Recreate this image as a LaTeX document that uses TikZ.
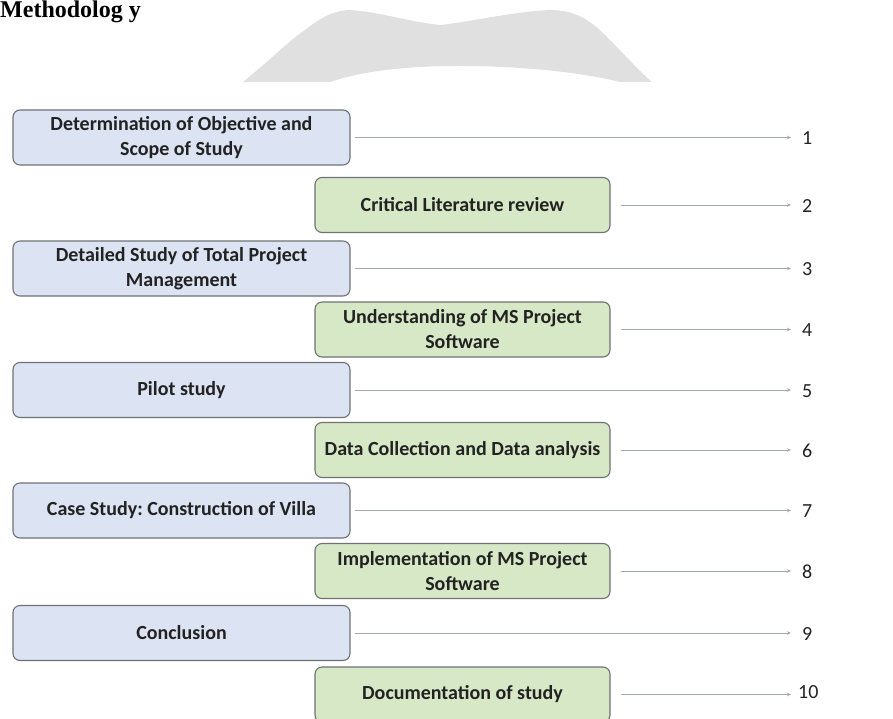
\documentclass[tikz,border=0pt]{standalone}
\usepackage{fontspec}
\setmainfont{Carlito}
\newfontfamily\titlefont{Liberation Serif}
\usetikzlibrary{arrows.meta}
\frenchspacing
\definecolor{bluefill}{HTML}{DCE3F2}
\definecolor{greenfill}{HTML}{D7E8C6}
\definecolor{boxline}{HTML}{6E7275}
\definecolor{conn}{HTML}{A3A9AF}
\definecolor{txt}{HTML}{222222}
\definecolor{wmark}{HTML}{E0E0E0}
\tikzset{
  stepbox/.style={draw=boxline, line width=1.1pt, rounded corners=7pt, minimum height=55pt,
    align=center, font=\bfseries\fontsize{20}{25}\selectfont, text=txt, inner sep=1pt},
  bluebox/.style={stepbox, fill=bluefill, minimum width=337pt},
  greenbox/.style={stepbox, fill=greenfill, minimum width=295pt},
  numlabel/.style={anchor=west, font=\fontsize{20}{22}\selectfont, text=txt, inner sep=0pt},
  conline/.style={draw=conn, line width=0.8pt, -{Stealth[length=4pt,width=3.5pt]}}
}
\begin{document}
\begin{tikzpicture}[x=1pt,y=-1pt]
\useasboundingbox (0,0) rectangle (893,719);
% watermark fragment
\fill[wmark] (243,82) .. controls (270,60) and (290,40) .. (305,30)
  .. controls (320,18) and (335,10) .. (350,10)
  .. controls (380,12) and (410,22) .. (440,25)
  .. controls (470,22) and (510,12) .. (550,10)
  .. controls (575,10) and (590,20) .. (605,35)
  .. controls (625,55) and (640,72) .. (652,82)
  -- (620,82) .. controls (580,72) and (520,66) .. (460,66)
  .. controls (400,66) and (360,72) .. (330,82) -- cycle;
\node[anchor=base west, inner sep=0pt, font=\titlefont\bfseries\fontsize{24}{26}\selectfont] (title) at (0,18) {Methodolog y};

\node[bluebox]  (b1)  at (181.5,137.5) {Determination of Objective and\\Scope of Study};
\node[greenbox] (b2)  at (462.5,205)   {Critical Literature review};
\node[bluebox]  (b3)  at (181.5,268.5) {Detailed Study of Total Project\\Management};
\node[greenbox] (b4)  at (462.5,329.5) {Understanding of MS Project\\Software};
\node[bluebox]  (b5)  at (181.5,390)   {Pilot study};
\node[greenbox] (b6)  at (462.5,450)   {Data Collection and Data analysis};
\node[bluebox]  (b7)  at (181.5,510.5) {Case Study: Construction of Villa};
\node[greenbox] (b8)  at (462.5,571)   {Implementation of MS Project\\Software};
\node[bluebox]  (b9)  at (181.5,633)   {Conclusion};
\node[greenbox] (b10) at (462.5,694.5) {Documentation of study};

\foreach \i/\y in {1/137.5,2/205,3/268.5,4/329.5,5/390,6/450,7/510.5,8/571,9/633,10/694.5}{
  \coordinate (e\i) at (791,\y);
}
\node[numlabel] (n1)  at (802,138.5) {1};
\node[numlabel] (n2)  at (802,206)   {2};
\node[numlabel] (n3)  at (802,269.5) {3};
\node[numlabel] (n4)  at (802,330.5) {4};
\node[numlabel] (n5)  at (802,391)   {5};
\node[numlabel] (n6)  at (802,451)   {6};
\node[numlabel] (n7)  at (802,511.5) {7};
\node[numlabel] (n8)  at (802,572)   {8};
\node[numlabel] (n9)  at (802,634)   {9};
\node[numlabel] (n10) at (798,692)   {10};

\foreach \i in {1,3,5,7,9}{
  \draw[conline] ([xshift=4pt]b\i.east) -- (e\i);
}
\foreach \i in {2,4,6,8,10}{
  \draw[conline] ([xshift=10pt]b\i.east) -- (e\i);
}
\end{tikzpicture}
\end{document}
